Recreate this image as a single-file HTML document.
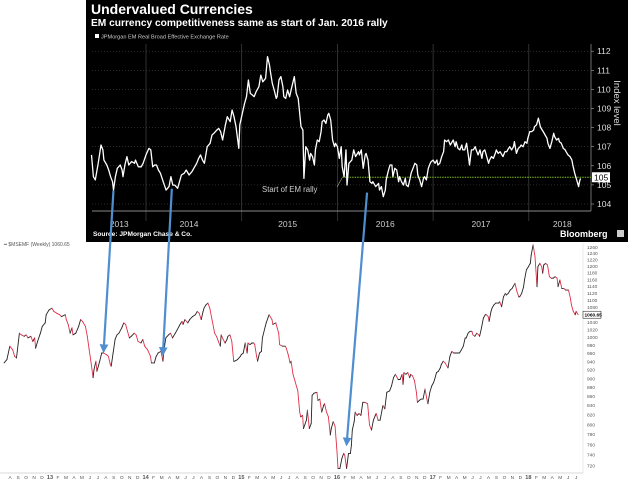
<!DOCTYPE html>
<html><head><meta charset="utf-8">
<style>
html,body{margin:0;padding:0;background:#fff;width:640px;height:480px;overflow:hidden}
svg{display:block;font-family:"Liberation Sans",sans-serif}
</style></head>
<body>
<svg id="chart" width="640" height="480" viewBox="0 0 640 480" xmlns="http://www.w3.org/2000/svg">
<defs>
<marker id="ah" viewBox="0 0 10 10" refX="8" refY="5" markerWidth="4" markerHeight="4" orient="auto"><path d="M0,0 L10,5 L0,10 z" fill="#4f8fd0"/></marker>
</defs>
<rect x="0" y="0" width="640" height="480" fill="#fff"/>
<g id="bottom"></g>
<rect x="86" y="0" width="542" height="242" fill="#000"/>
<text x="91" y="14" fill="#fff" font-size="14" font-weight="bold">Undervalued Currencies</text>
<text x="91" y="26" fill="#fff" font-size="10.2" font-weight="bold">EM currency competitiveness same as start of Jan. 2016 rally</text>
<rect x="95" y="34" width="4" height="4" fill="#fff"/>
<text x="101" y="38.5" fill="#ccc" font-size="5.6">JPMorgan EM Real Broad Effective Exchange Rate</text>
<g id="topg"></g>
<text transform="translate(614,103) rotate(90)" fill="#ddd" font-size="9.5" text-anchor="middle">Index level</text>
<text x="262" y="192" fill="#ccc" font-size="7.8">Start of EM rally</text>
<line x1="337" y1="187" x2="342" y2="178" stroke="#aaa" stroke-width="0.6"/>
<text x="93" y="236" fill="#fff" font-size="6.6" font-weight="bold">Source: JPMorgan Chase &amp; Co.</text>
<text x="560" y="237" fill="#fff" font-size="9" font-weight="bold">Bloomberg</text>
<rect x="617" y="230" width="7" height="7" fill="#ccc"/>
<g id="arrows"></g>
</svg>
<script>
const topDates = [
2013.43,2013.45,2013.47,2013.50,2013.53,2013.55,2013.56,2013.59,2013.61,2013.63,
2013.65,2013.66,2013.68,2013.70,2013.73,2013.75,2013.76,2013.78,2013.80,2013.82,
2013.85,2013.88,2013.89,2013.92,2013.95,2013.97,2014.00,2014.03,2014.05,2014.07,
2014.09,2014.11,2014.13,2014.15,2014.18,2014.21,2014.24,2014.26,2014.28,2014.30,
2014.33,2014.35,2014.37,2014.40,2014.42,2014.45,2014.48,2014.50,2014.53,2014.55,
2014.57,2014.59,2014.61,2014.64,2014.67,2014.69,2014.71,2014.74,2014.76,2014.78,
2014.80,2014.83,2014.85,2014.88,2014.90,2014.92,2014.94,2014.97,2014.98,2015.01,
2015.03,2015.05,2015.07,2015.09,2015.11,2015.13,2015.15,2015.18,2015.20,2015.22,
2015.25,2015.27,2015.29,2015.30,2015.32,2015.34,2015.36,2015.37,2015.39,2015.41,
2015.43,2015.44,2015.46,2015.48,2015.50,2015.52,2015.55,2015.57,2015.59,2015.62,
2015.64,2015.65,2015.67,2015.69,2015.71,2015.72,2015.74,2015.76,2015.77,2015.79,
2015.81,2015.83,2015.84,2015.86,2015.88,2015.90,2015.91,2015.93,2015.95,2015.97,
2015.98,2016.00,2016.02,2016.04,2016.05,2016.07,
2016.09,2016.10,2016.12,2016.15,2016.17,2016.19,2016.22,2016.23,2016.25,2016.27,
2016.29,2016.30,2016.32,2016.34,2016.36,2016.37,2016.40,2016.43,2016.44,2016.46,
2016.48,2016.50,2016.51,2016.53,2016.55,2016.57,2016.58,2016.60,2016.62,2016.64,
2016.65,2016.67,2016.69,2016.71,2016.72,2016.74,2016.76,2016.77,2016.79,2016.81,
2016.83,2016.84,2016.86,2016.88,2016.90,2016.91,2016.93,2016.95,2016.97,2016.98,
2017.00,2017.02,2017.04,2017.05,2017.07,2017.09,2017.11,2017.12,2017.14,2017.16,
2017.18,2017.19,2017.21,2017.23,2017.24,2017.26,2017.28,2017.30,2017.31,2017.33,
2017.35,2017.37,2017.38,2017.40,2017.42,2017.44,2017.45,2017.47,2017.49,2017.51,
2017.52,2017.54,2017.56,2017.58,2017.59,2017.61,2017.63,2017.65,2017.66,2017.68,
2017.70,2017.72,2017.73,2017.75,2017.77,2017.78,2017.80,2017.82,2017.84,2017.85,
2017.87,2017.89,2017.91,2017.92,2017.94,2017.96,2017.98,2017.99,2018.01,2018.03,
2018.05,2018.06,2018.08,2018.10,2018.12,2018.13,2018.15,2018.17,2018.19,2018.20,
2018.22,2018.24,2018.26,2018.27,2018.29,2018.31,2018.32,2018.34,2018.36,2018.38,
2018.39,2018.41,2018.43,2018.45,2018.46,2018.48,2018.50,2018.52,2018.53,2018.54];
const topValues = [
106.57,105.43,105.26,106.13,107.09,106.83,106.30,106.04,105.78,105.43,
105.17,104.73,105.43,105.87,106.04,105.78,105.43,106.04,106.48,106.04,
106.22,106.13,106.30,105.95,105.95,106.13,106.57,106.91,106.83,105.95,
106.04,106.04,105.78,105.61,105.17,104.73,104.91,105.43,104.99,104.99,
104.82,105.17,105.52,105.61,105.78,105.52,105.69,105.87,106.13,106.39,
106.57,106.30,106.13,107.00,107.18,107.61,107.70,107.87,107.96,107.79,
107.35,108.14,108.57,108.31,108.92,108.57,108.05,106.91,108.14,108.83,
109.27,109.62,110.49,109.79,109.71,109.62,109.88,110.14,110.75,110.40,
110.58,111.71,111.28,110.93,110.32,109.97,109.53,109.62,110.49,110.67,
110.14,109.62,109.53,109.97,109.62,110.06,110.67,109.79,109.53,108.05,
107.87,105.34,107.00,106.83,106.30,106.65,106.48,106.04,106.83,107.35,
107.26,107.79,108.31,108.40,108.22,108.66,108.75,108.40,107.35,107.00,
107.18,107.00,106.39,107.00,105.95,105.43,
106.83,104.99,106.13,106.30,106.83,106.48,106.74,106.57,106.83,105.87,
106.57,106.65,106.30,105.17,105.08,105.17,104.91,105.08,104.73,104.91,
104.38,104.73,105.26,105.69,106.04,106.04,105.43,105.87,105.78,105.17,
105.43,105.17,104.99,105.34,104.99,104.91,105.34,105.61,105.87,106.13,
106.04,105.52,105.26,104.91,105.34,105.43,105.26,105.87,106.13,106.22,
106.30,106.13,106.30,106.04,106.13,106.48,106.74,107.35,107.26,107.35,
107.09,107.18,107.35,107.00,107.26,106.91,106.83,107.09,106.83,106.83,
107.18,106.48,106.04,106.83,106.83,107.00,106.83,106.57,106.83,106.39,
106.74,106.83,106.48,106.13,106.30,106.48,106.39,106.65,106.83,106.65,
106.74,106.57,106.48,106.74,106.74,106.83,107.00,106.83,107.00,107.26,
106.65,106.91,107.00,107.09,107.00,107.26,107.18,107.44,107.79,107.79,
107.87,108.05,108.14,108.49,108.05,107.96,107.79,107.61,107.44,107.18,
106.91,107.26,107.70,107.53,107.35,107.44,107.26,107.18,106.91,106.83,
106.74,106.57,106.48,106.30,106.04,105.61,105.26,104.91,105.17,105.34];
const topTicks = [104,105,106,107,108,109,110,111,112];
const topYears = [2013,2014,2015,2016,2017,2018];
const topYearLabelPos = [2013.72,2014.45,2015.48,2016.5,2017.5,2018.35];
const rallyLevel = 105.4;
const rallyStart = 2016.05;
const lastTopValue = 105;

const bottomDates = [
2012.52,2012.55,2012.58,2012.61,2012.63,2012.65,2012.68,2012.70,2012.73,2012.75,
2012.77,2012.80,2012.82,2012.84,2012.85,2012.87,2012.90,2012.92,2012.95,2012.96,
2012.99,2013.02,2013.04,2013.07,2013.10,2013.12,2013.16,2013.17,2013.19,2013.21,
2013.23,2013.24,2013.27,2013.30,2013.32,2013.34,2013.37,2013.39,2013.41,2013.43,
2013.45,2013.46,2013.48,2013.49,2013.52,2013.54,2013.56,2013.59,2013.61,2013.63,
2013.64,2013.66,2013.68,2013.70,2013.72,2013.75,2013.77,2013.79,2013.81,2013.83,
2013.85,2013.88,2013.90,2013.92,2013.95,2013.97,2013.99,2014.02,2014.05,2014.06,
2014.09,2014.11,2014.13,2014.16,2014.18,2014.19,2014.21,2014.24,2014.26,2014.28,
2014.31,2014.33,2014.36,2014.38,2014.39,2014.41,2014.44,2014.46,2014.49,2014.52,
2014.54,2014.56,2014.58,2014.60,2014.61,2014.63,2014.65,2014.67,2014.69,2014.71,
2014.72,2014.74,2014.76,2014.78,2014.79,2014.81,2014.83,2014.85,2014.86,2014.88,
2014.90,2014.92,2014.93,2014.96,2014.99,2015.00,2015.02,2015.04,2015.06,2015.07,
2015.09,2015.11,2015.13,2015.14,2015.16,2015.17,2015.19,2015.21,2015.22,2015.25,
2015.26,2015.29,2015.32,2015.33,2015.36,2015.39,2015.40,2015.43,2015.46,2015.47,
2015.49,2015.51,2015.52,2015.54,2015.56,2015.58,
2015.59,2015.61,2015.62,2015.64,2015.65,2015.68,2015.69,2015.71,2015.73,2015.74,
2015.76,2015.79,2015.80,2015.82,2015.84,2015.86,2015.87,2015.89,2015.91,2015.93,
2015.94,2015.96,2015.98,2016.00,2016.01,2016.03,2016.05,2016.07,2016.08,2016.10,
2016.12,2016.14,2016.15,2016.16,2016.18,2016.19,2016.21,2016.23,2016.25,2016.27,
2016.29,2016.32,2016.34,2016.36,2016.38,2016.40,2016.41,2016.43,2016.45,2016.47,
2016.48,2016.50,2016.52,2016.55,2016.57,2016.59,2016.61,2016.62,2016.64,2016.66,
2016.68,2016.69,2016.70,2016.72,2016.74,2016.76,2016.77,2016.79,2016.81,2016.83,
2016.84,2016.86,2016.88,2016.90,2016.92,2016.94,2016.95,2016.97,2016.99,2017.01,
2017.02,2017.04,2017.06,2017.08,2017.09,2017.11,2017.13,2017.15,2017.16,2017.18,
2017.20,2017.22,2017.23,2017.25,2017.28,2017.30,2017.32,2017.34,2017.35,2017.37,
2017.39,2017.41,2017.42,2017.44,2017.46,2017.48,2017.49,2017.51,2017.53,2017.55,
2017.56,2017.58,2017.59,2017.61,2017.62,2017.64,2017.66,2017.69,2017.70,2017.72,
2017.74,2017.76,2017.77,2017.79,2017.81,2017.83,2017.84,2017.86,2017.88,2017.90,
2017.91,2017.93,2017.95,2017.96,2017.98,2018.00,2018.02,2018.03,2018.05,2018.07,
2018.09,2018.10,2018.12,2018.14,2018.15,2018.16,2018.18,2018.20,2018.22,2018.24,
2018.26,2018.28,2018.30,2018.31,2018.33,2018.35,2018.37,2018.39,2018.42,2018.44,
2018.45,2018.47,2018.49,2018.50,2018.52];
const bottomValues = [
937,945,978,969,953,949,1011,1007,1003,1007,
999,1003,990,999,973,990,1011,1029,1038,1060,
1073,1078,1069,1064,1060,1055,1060,1047,1034,1011,
1025,1007,1011,1029,1047,1042,1029,1003,969,937,
902,921,941,917,941,961,961,957,953,933,
929,961,995,1007,1011,1025,1038,1034,1016,999,
1003,1011,1007,990,986,995,978,969,953,937,
937,953,961,965,941,965,999,1007,1011,999,
1011,1020,1034,1042,1034,1047,1038,1047,1055,1060,
1069,1064,1047,1069,1078,1087,1092,1078,1051,1025,
1011,1003,990,978,1007,995,986,995,1003,1007,
990,941,941,945,953,957,961,986,961,986,
982,986,986,982,953,941,961,965,999,1029,
1038,1060,1047,1034,1038,1011,982,978,978,973,
957,937,941,910,895,880,
872,826,816,819,792,809,830,792,802,862,
867,869,851,854,826,840,844,826,816,779,
792,806,796,746,715,715,733,743,740,715,
743,743,759,789,806,826,819,823,819,847,
847,844,799,789,809,819,823,809,809,830,
840,833,869,872,883,902,910,906,898,898,
910,887,914,910,914,902,910,906,895,869,
847,851,854,854,876,854,844,869,883,891,
898,914,917,925,933,941,937,929,925,953,
965,961,961,961,961,969,978,999,999,1011,
1016,1016,1007,1003,1011,1007,1003,1025,1051,1060,
1060,1055,1042,1069,1078,1087,1092,1092,1096,1082,
1110,1120,1115,1120,1129,1134,1139,1149,1125,1110,
1110,1120,1139,1159,1189,1199,1209,1235,1268,1230,
1139,1199,1209,1199,1179,1204,1209,1204,1169,1164,
1164,1169,1164,1139,1159,1134,1134,1129,1129,1106,
1087,1069,1060,1069,1060];
const bottomTicks = [720,740,760,780,800,820,840,860,880,900,920,940,960,980,1000,1020,1040,1060,1080,1100,1120,1140,1160,1180,1200,1220,1240,1260];
const monthLabels = ["A","S","O","N","D","13","F","M","A","M","J","J","A","S","O","N","D","14","F","M","A","M","J","J","A","S","O","N","D","15","F","M","A","M","J","J","A","S","O","N","D","16","F","M","A","M","J","J","A","S","O","N","D","17","F","M","A","M","J","J","A","S","O","N","D","18","F","M","A","M","J","J"];
const firstMonth = 2012 + 7/12;
const lastBottomLabel = "1060.65";

const NS = "http://www.w3.org/2000/svg";
function mk(tag, attrs, parent){const e=document.createElementNS(NS,tag);for(const k in attrs)e.setAttribute(k,attrs[k]);parent.appendChild(e);return e;}

function xT(t){return 146 + (t-2014)*95.7;}
function yT(v){return 204 - (v-104)*19.1;}
function xB(t){return 50 + (t-2013)*95.67;}
function yB(v){return 247.3 + (Math.log(1260)-Math.log(v))*390.2;}

const topG = document.getElementById('topg');
topTicks.forEach(v=>{
  const g = mk('line',{x1:92,x2:589,y1:yT(v),y2:yT(v),stroke:'#555','stroke-width':0.5,'stroke-dasharray':'1,2'},topG);
  
  
  const t = mk('text',{x:597,y:yT(v)+3,fill:'#ddd','font-size':8.5},topG);
  
  
  t.textContent = v;
  const tk = mk('line',{x1:591,x2:594,y1:yT(v),y2:yT(v),stroke:'#aaa','stroke-width':0.6},topG);
  
  
});
topYears.forEach((y,i)=>{
  if(y>2013){
    const d = mk('line',{x1:xT(y),x2:xT(y),y1:44,y2:221,stroke:'#444','stroke-width':0.7},topG);
    
    
  }
  const t = mk('text',{x:xT(topYearLabelPos[i]),y:227,fill:'#ccc','font-size':8.5,'text-anchor':'middle'},topG);
  
  
  t.textContent = y;
});
const ax = mk('line',{x1:92,x2:591,y1:211,y2:211,stroke:'#888','stroke-width':1},topG);


const ay = mk('line',{x1:591,x2:591,y1:44,y2:211,stroke:'#888','stroke-width':0.8},topG);


const green = mk('line',{x1:xT(rallyStart),x2:591,y1:yT(rallyLevel),y2:yT(rallyLevel),stroke:'#7ac31f','stroke-width':1,'stroke-dasharray':'1.5,1'},topG);


const dTop = topDates.map((t,i)=>(i?'L':'M')+xT(t).toFixed(1)+','+yT(topValues[i]).toFixed(1)).join(' ');
const topLine = mk('path',{d:dTop,fill:'none',stroke:'#fff','stroke-width':1.3,'stroke-linejoin':'round'},topG);


const lb = mk('rect',{x:592,y:yT(rallyLevel)-5,width:18,height:10,fill:'#fff'},topG);


const lt = mk('text',{x:594,y:yT(rallyLevel)+3.3,fill:'#000','font-size':8.5},topG);


lt.textContent = lastTopValue;

const botG = document.getElementById('bottom');
const leg = mk('text',{x:4,y:246,fill:'#555','font-size':5},botG);


leg.textContent = '━ $MSEMF (Weekly) ' + lastBottomLabel;
const rax = mk('line',{x1:583,x2:583,y1:243,y2:473,stroke:'#ddd','stroke-width':0.6},botG);


const bax = mk('line',{x1:0,x2:583,y1:473,y2:473,stroke:'#ccc','stroke-width':0.8},botG);


bottomTicks.forEach(v=>{
  const t = mk('text',{x:587,y:yB(v)+1.7,fill:'#555','font-size':4.8},botG);
  
  
  t.textContent = v;
});
monthLabels.forEach((m,i)=>{
  const t = mk('text',{x:xB(firstMonth + i/12),y:479,fill:'#555','font-size':m.length>1?5.6:4.8,'font-weight':m.length>1?'bold':'normal','text-anchor':'middle'},botG);
  
  
  t.textContent = m;
});
for(let i=1;i<bottomDates.length;i++){
  const up = bottomValues[i] >= bottomValues[i-1];
  const s = mk('line',{x1:xB(bottomDates[i-1]).toFixed(1),y1:yB(bottomValues[i-1]).toFixed(1),x2:xB(bottomDates[i]).toFixed(1),y2:yB(bottomValues[i]).toFixed(1),stroke:up?'#222':'#e0304a','stroke-width':0.9,'stroke-linecap':'round'},botG);
  
  
}
const lastV = bottomValues[bottomValues.length-1];
const bb = mk('rect',{x:583,y:yB(lastV)-3.5,width:18,height:7,fill:'#fff',stroke:'#333','stroke-width':0.6},botG);


const bt = mk('text',{x:584.5,y:yB(lastV)+1.8,fill:'#000','font-size':4.8,'font-weight':'bold'},botG);


bt.textContent = lastBottomLabel;

const arrowsG = document.getElementById('arrows');
const arrowFrom = [[2013.66,104.7],[2014.27,104.8],[2016.31,104.6]];
const arrowTo = [[2013.56,965],[2014.18,958],[2016.10,760]];
arrowFrom.forEach((f,i)=>{
  const a = mk('line',{x1:xT(f[0]),y1:yT(f[1]),x2:xB(arrowTo[i][0]),y2:yB(arrowTo[i][1]),stroke:'#4f8fd0','stroke-width':2.2,'marker-end':'url(#ah)'},arrowsG);
  
  
});
</script>
</body></html>
